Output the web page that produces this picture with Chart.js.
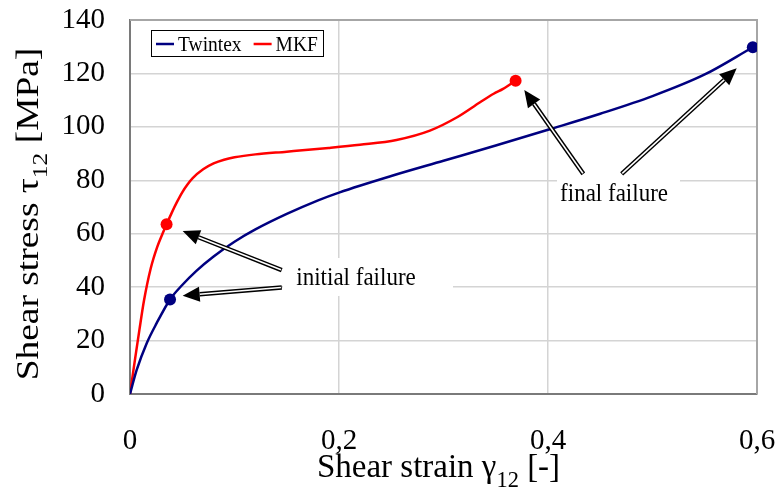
<!DOCTYPE html>
<html>
<head>
<meta charset="utf-8">
<script src="https://cdn.jsdelivr.net/npm/chart.js@4.4.1/dist/chart.umd.min.js"></script>
<style>
  html, body { margin: 0; background: #fff; }
  #wrap { width: 778px; height: 492px; }
</style>
</head>
<body>
<div id="wrap"><canvas id="chart" width="778" height="492"></canvas></div>
<script>
// Curves (strain [-], stress [MPa])
const twintexStrain = [0, 0.0064, 0.016, 0.0255, 0.0383, 0.05, 0.0638, 0.08, 0.1, 0.12, 0.15, 0.18, 0.2, 0.25, 0.3, 0.35, 0.4, 0.45, 0.5, 0.55, 0.596];
const twintexStress = [0, 9, 19, 26.5, 35.4, 40.8, 46.2, 51.5, 57.0, 61.6, 67.4, 72.5, 75.4, 81.6, 87.3, 93.0, 98.9, 104.9, 111.5, 119.6, 129.8];
const mkfStrain = [0, 0.005, 0.009, 0.0134, 0.0198, 0.026, 0.031, 0.035, 0.04, 0.045, 0.05, 0.055, 0.06, 0.07, 0.08, 0.09, 0.1, 0.12, 0.15, 0.19, 0.22, 0.255, 0.287, 0.313, 0.335, 0.348, 0.357, 0.369];
const mkfStress = [0, 13.5, 24.0, 35.0, 47.0, 55.0, 59.9, 63.5, 67.9, 71.9, 75.5, 78.4, 80.8, 84.1, 86.3, 87.7, 88.6, 89.7, 90.7, 92.1, 93.3, 95.1, 98.6, 103.6, 109.2, 112.4, 114.2, 117.3];

// initial and final failure points
const twintexFailStrain = [0.0383, 0.596];
const twintexFailStress = [35.4, 129.8];
const mkfFailStrain = [0.035, 0.369];
const mkfFailStress = [63.5, 117.3];

const xTicks = [0, 0.2, 0.4, 0.6];
const yTicks = [0, 20, 40, 60, 80, 100, 120, 140];

// annotation arrows, in data units: [fromX, fromY, toX, toY]
const initialArrows = [[0.1452, 46.4, 0.0504, 61.0], [0.1452, 39.9, 0.0504, 36.8]];
const finalArrows = [[0.4338, 82.4, 0.3773, 113.8], [0.4705, 82.4, 0.5806, 121.9]];
// annotation texts: centre, plus the x range of their white box
const notes = [
  { text: 'initial failure', x: 0.2163, y: 43.8, x0: 0.1464, x1: 0.3091 },
  { text: 'final failure', x: 0.4632, y: 75.2, x0: 0.4086, x1: 0.5263 }
];

const SERIF = '"Liberation Serif", "Times New Roman", serif';
const BLUE = '#000080';
const RED = '#ff0000';

function pts(xs, ys) {
  return xs.map((x, i) => ({ x: x, y: ys[i] }));
}

// text stretched vertically, like the reference, optional subscripts
function drawRich(ctx, parts, x, y, size, rot, stretch) {
  ctx.save();
  ctx.translate(x, y);
  ctx.scale(1, stretch);
  ctx.rotate(rot);
  let w = 0;
  parts.forEach(p => {
    ctx.font = (p.sub ? size * 0.68 : size) + 'px ' + SERIF;
    p.w = ctx.measureText(p.t).width;
    w += p.w;
  });
  let cx = -w / 2;
  ctx.fillStyle = '#000';
  ctx.textBaseline = 'alphabetic';
  ctx.textAlign = 'left';
  parts.forEach(p => {
    ctx.font = (p.sub ? size * 0.68 : size) + 'px ' + SERIF;
    ctx.fillText(p.t, cx, p.sub ? size * 0.28 : 0);
    cx += p.w;
  });
  ctx.restore();
}

function drawArrow(ctx, x1, y1, x2, y2) {
  const a = Math.atan2(y2 - y1, x2 - x1);
  const head = 17, hw = 7.5;
  const bx = x2 - head * Math.cos(a), by = y2 - head * Math.sin(a);
  const nx = -Math.sin(a), ny = Math.cos(a);
  ctx.save();
  ctx.lineCap = 'butt';
  ctx.strokeStyle = '#000';
  ctx.lineWidth = 4.5;
  ctx.beginPath(); ctx.moveTo(x1, y1); ctx.lineTo(bx, by); ctx.stroke();
  ctx.strokeStyle = '#fff';
  ctx.lineWidth = 1.6;
  ctx.beginPath();
  ctx.moveTo(x1 + Math.cos(a) * 0.8, y1 + Math.sin(a) * 0.8);
  ctx.lineTo(bx, by);
  ctx.stroke();
  ctx.fillStyle = '#000';
  ctx.beginPath();
  ctx.moveTo(x2, y2);
  ctx.lineTo(bx + nx * hw, by + ny * hw);
  ctx.lineTo(bx - nx * hw, by - ny * hw);
  ctx.closePath();
  ctx.fill();
  ctx.restore();
}

const extras = {
  id: 'extras',
  beforeDatasetsDraw(chart) {
    const ctx = chart.ctx, sx = chart.scales.x, sy = chart.scales.y;
    const a = chart.chartArea;
    // white boxes behind the annotation texts
    ctx.save();
    ctx.fillStyle = '#fff';
    notes.forEach(n => {
      const cy = sy.getPixelForValue(n.y);
      const l = sx.getPixelForValue(n.x0), r = sx.getPixelForValue(n.x1);
      ctx.fillRect(l, cy - 19, r - l, 38);
    });
    // top and right frame
    ctx.strokeStyle = '#a6a6a6';
    ctx.lineWidth = 2;
    ctx.beginPath();
    ctx.moveTo(a.left, a.top);
    ctx.lineTo(a.right, a.top);
    ctx.lineTo(a.right, a.bottom);
    ctx.stroke();
    ctx.restore();
  },
  afterDraw(chart) {
    const ctx = chart.ctx, sx = chart.scales.x, sy = chart.scales.y;
    const a = chart.chartArea;

    initialArrows.concat(finalArrows).forEach(r => {
      drawArrow(ctx, sx.getPixelForValue(r[0]), sy.getPixelForValue(r[1]),
        sx.getPixelForValue(r[2]), sy.getPixelForValue(r[3]));
    });
    notes.forEach(n => {
      drawRich(ctx, [{ t: n.text }], sx.getPixelForValue(n.x), sy.getPixelForValue(n.y) + 8, 23, 0, 1.08);
    });

    // axis titles
    drawRich(ctx, [{ t: 'Shear strain \u03b3' }, { t: '12', sub: true }, { t: ' [-]' }],
      (a.left + a.right) / 2 - 5, 477, 33, 0, 1.05);
    drawRich(ctx, [{ t: 'Shear stress \u03c4' }, { t: '12', sub: true }, { t: ' [MPa]' }],
      38, 214, 32, -Math.PI / 2, 1.17);

    // legend box
    const lx = a.left + 21, ly = a.top + 10, lw = 172, lh = 26;
    ctx.save();
    ctx.fillStyle = '#fff';
    ctx.fillRect(lx, ly, lw, lh);
    ctx.strokeStyle = '#000';
    ctx.lineWidth = 1;
    ctx.strokeRect(lx + 0.5, ly + 0.5, lw, lh);
    let ix = lx + 5;
    chart.data.datasets.slice(0, 2).forEach(ds => {
      ctx.strokeStyle = ds.borderColor;
      ctx.lineWidth = 2.5;
      ctx.beginPath();
      ctx.moveTo(ix, ly + lh / 2 + 1);
      ctx.lineTo(ix + 18, ly + lh / 2 + 1);
      ctx.stroke();
      ctx.font = '19.5px ' + SERIF;
      const tw = ctx.measureText(ds.label).width;
      drawRich(ctx, [{ t: ds.label }], ix + 22 + tw / 2, ly + lh / 2 + 7.5, 19.5, 0, 1.12);
      ix += 22 + tw + 12;
    });
    ctx.restore();
  }
};

// tick padding must not push the plot area inwards
function noPad(s) {
  s.paddingTop = 0; s.paddingBottom = 0; s.paddingLeft = 0; s.paddingRight = 0;
}

new Chart(document.getElementById('chart'), {
  type: 'line',
  data: {
    datasets: [
      { label: 'Twintex', data: pts(twintexStrain, twintexStress), borderColor: BLUE, borderWidth: 2.5,
        pointRadius: 0, cubicInterpolationMode: 'monotone', fill: false },
      { label: 'MKF', data: pts(mkfStrain, mkfStress), borderColor: RED, borderWidth: 2.5,
        pointRadius: 0, cubicInterpolationMode: 'monotone', fill: false },
      { label: '', data: pts(twintexFailStrain, twintexFailStress), showLine: false,
        pointRadius: 6, pointBackgroundColor: BLUE, pointBorderWidth: 0, borderColor: BLUE },
      { label: '', data: pts(mkfFailStrain, mkfFailStress), showLine: false,
        pointRadius: 6, pointBackgroundColor: RED, pointBorderWidth: 0, borderColor: RED }
    ]
  },
  options: {
    responsive: false,
    animation: false,
    layout: { padding: { left: 0, right: 21, top: 20, bottom: 0 } },
    plugins: { legend: { display: false }, tooltip: { enabled: false } },
    scales: {
      x: {
        type: 'linear', min: 0, max: 0.6,
        afterFit: s => { s.height = 98; noPad(s); },
        afterBuildTicks: s => { s.ticks = xTicks.map(v => ({ value: v })); },
        grid: { color: '#d4d4d4', lineWidth: 1.5, drawTicks: false },
        border: { color: '#7a7a7a', width: 2 },
        ticks: {
          padding: 30, color: '#000', font: { family: SERIF, size: 29 },
          callback: v => String(Math.round(v * 10) / 10).replace('.', ',')
        }
      },
      y: {
        min: 0, max: 140,
        afterFit: s => { s.width = 130; noPad(s); },
        afterBuildTicks: s => { s.ticks = yTicks.map(v => ({ value: v })); },
        grid: { color: '#d4d4d4', lineWidth: 1.5, drawTicks: false },
        border: { color: '#7a7a7a', width: 2 },
        ticks: { padding: 25, color: '#000', font: { family: SERIF, size: 29 } }
      }
    }
  },
  plugins: [extras]
});
</script>
</body>
</html>
